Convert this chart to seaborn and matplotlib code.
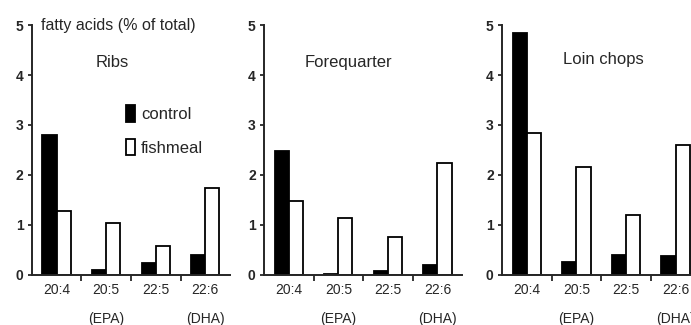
import pandas as pd
import matplotlib.pyplot as plt
import seaborn as sns

acids = ["20:4", "20:5\n(EPA)", "22:5", "22:6\n(DHA)"]
cuts = ["Ribs", "Forequarter", "Loin chops"]
control = {
    "Ribs": [2.8, 0.1, 0.23, 0.4],
    "Forequarter": [2.48, 0.02, 0.08, 0.19],
    "Loin chops": [4.84, 0.25, 0.4, 0.37],
}
fishmeal = {
    "Ribs": [1.27, 1.03, 0.57, 1.73],
    "Forequarter": [1.48, 1.13, 0.75, 2.23],
    "Loin chops": [2.83, 2.15, 1.2, 2.6],
}

sns.set_style("ticks")
plt.rcParams["font.family"] = ["Liberation Sans", "DejaVu Sans"]

fig = plt.figure(figsize=(6.91, 3.25), dpi=100)
lefts = [0.046, 0.382, 0.7265]
title_pos = [(0.323, 0.852), (0.207, 0.85), (0.308, 0.862)]

for i, cut in enumerate(cuts):
    ax = fig.add_axes([lefts[i], 0.154, 0.287, 0.769])
    df = pd.DataFrame({
        "acid": acids * 2,
        "value": control[cut] + fishmeal[cut],
        "diet": ["control"] * 4 + ["fishmeal"] * 4,
    })
    sns.barplot(data=df, x="acid", y="value", hue="diet",
                palette={"control": "black", "fishmeal": "white"},
                edgecolor="black", linewidth=1.3, width=0.57,
                order=acids, ax=ax)
    ax.set_xlim(-0.5, 3.5)
    ax.set_ylim(0, 5)
    ax.set_yticks(range(6))
    ax.set_xlabel("")
    ax.set_ylabel("")
    ax.set_xticks([0.5, 1.5, 2.5], minor=True)
    ax.tick_params(axis="x", which="major", length=0, labelsize=10, pad=6)
    ax.tick_params(axis="x", which="minor", length=4, width=1.3, direction="out")
    ax.tick_params(axis="y", length=3, width=1.3, labelsize=10, pad=3)
    for lab in ax.get_xticklabels():
        lab.set_linespacing(2.3)
        lab.set_verticalalignment("top")
    for lab in ax.get_yticklabels():
        lab.set_fontweight("bold")
    sns.despine(ax=ax)
    for s in ["left", "bottom"]:
        ax.spines[s].set_linewidth(1.4)
    ax.text(*title_pos[i], cut, transform=ax.transAxes, fontsize=12, va="center")
    if i == 0:
        ax.text(0.045, 1.0, "fatty acids (% of total)", transform=ax.transAxes,
                fontsize=11.5, va="center")
        ax.legend(loc="upper left", bbox_to_anchor=(0.4, 0.74), frameon=False,
                  handlelength=0.55, handleheight=1.15, handletextpad=0.35,
                  labelspacing=1.0, fontsize=12)
    else:
        ax.get_legend().remove()

fig.savefig("out.png", dpi=100)
